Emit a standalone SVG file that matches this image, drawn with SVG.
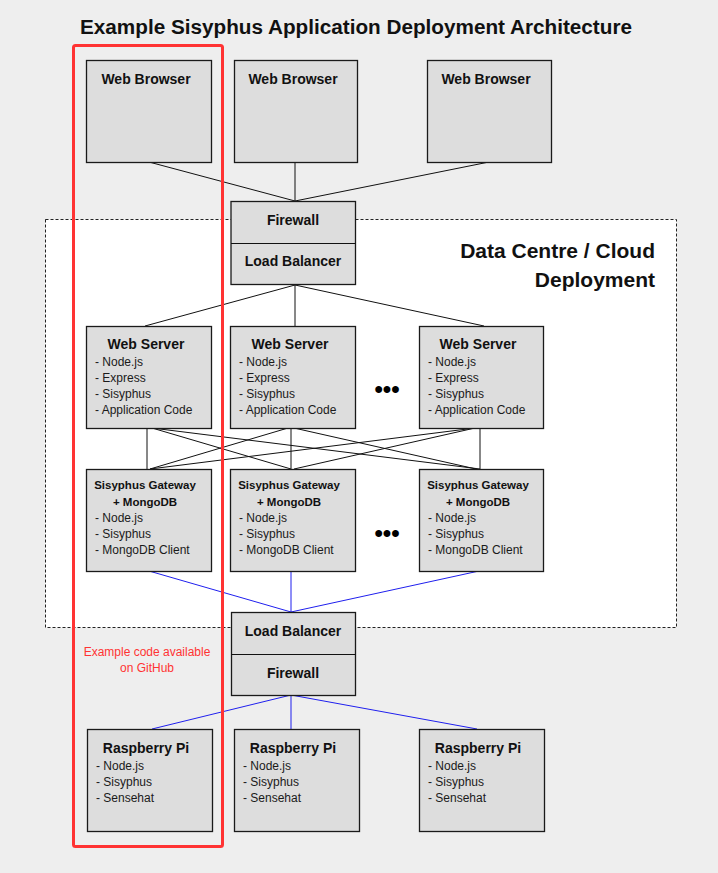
<svg xmlns="http://www.w3.org/2000/svg" width="718" height="873" viewBox="0 0 718 873">
<style>
.box{fill:#dddddd;stroke:#1a1a1a;stroke-width:1.3}
.t{font-family:"Liberation Sans",Arial,sans-serif;font-weight:bold;font-size:14px;fill:#111;text-anchor:middle}
.gt{font-family:"Liberation Sans",Arial,sans-serif;font-weight:bold;font-size:11.5px;fill:#111;text-anchor:middle}
.i{font-family:"Liberation Sans",Arial,sans-serif;font-size:12px;fill:#1a1a1a}
.dots{font-family:"Liberation Sans",Arial,sans-serif;font-weight:bold;font-size:24px;fill:#000;text-anchor:middle}
.k{stroke:#111;stroke-width:1;fill:none}
.b{stroke:#1f1fee;stroke-width:1;fill:none}
.red{font-family:"Liberation Sans",Arial,sans-serif;font-size:12px;fill:#ff3333;text-anchor:middle}
</style>
<rect x="0" y="0" width="718" height="873" fill="#eeeeee"/>
<text x="356" y="34" font-family="'Liberation Sans',Arial,sans-serif" font-weight="bold" font-size="20" fill="#111" text-anchor="middle" textLength="552" lengthAdjust="spacingAndGlyphs">Example Sisyphus Application Deployment Architecture</text>

<g id="datacentre">
<rect x="45.5" y="219.5" width="631" height="408" fill="#ffffff" stroke="#222" stroke-width="1" stroke-dasharray="3,2"/>
<text x="655" y="258" font-family="'Liberation Sans',Arial,sans-serif" font-weight="bold" font-size="21" fill="#111" text-anchor="end">Data Centre / Cloud</text>
<text x="655" y="287" font-family="'Liberation Sans',Arial,sans-serif" font-weight="bold" font-size="21" fill="#111" text-anchor="end">Deployment</text>
</g>

<g id="connectors">
<line class="k" x1="149" y1="162" x2="295" y2="201"/>
<line class="k" x1="295" y1="162" x2="295" y2="201"/>
<line class="k" x1="489" y1="162" x2="295" y2="201"/>
<line class="k" x1="295" y1="285" x2="145" y2="326"/>
<line class="k" x1="295" y1="285" x2="295" y2="326"/>
<line class="k" x1="295" y1="285" x2="484" y2="326"/>
<line class="k" x1="147" y1="428" x2="147" y2="469"/>
<line class="k" x1="152" y1="428" x2="291" y2="469"/>
<line class="k" x1="152" y1="428" x2="480" y2="469"/>
<line class="k" x1="288" y1="428" x2="150" y2="469"/>
<line class="k" x1="291" y1="428" x2="291" y2="469"/>
<line class="k" x1="294" y1="428" x2="476" y2="469"/>
<line class="k" x1="475" y1="428" x2="150" y2="469"/>
<line class="k" x1="475" y1="428" x2="294" y2="469"/>
<line class="k" x1="480" y1="428" x2="480" y2="469"/>
<line class="b" x1="149" y1="571" x2="291" y2="612"/>
<line class="b" x1="291" y1="571" x2="291" y2="612"/>
<line class="b" x1="479" y1="571" x2="291" y2="612"/>
<line class="b" x1="291" y1="695" x2="152" y2="729"/>
<line class="b" x1="291" y1="695" x2="291" y2="729"/>
<line class="b" x1="291" y1="695" x2="477" y2="729"/>
</g>

<g id="browser1"><rect class="box" x="86.5" y="60.5" width="125" height="102"/><text class="t" x="146" y="84">Web Browser</text></g>
<g id="browser2"><rect class="box" x="234.5" y="60.5" width="123" height="102"/><text class="t" x="293" y="84">Web Browser</text></g>
<g id="browser3"><rect class="box" x="427.5" y="60.5" width="124" height="102"/><text class="t" x="486" y="84">Web Browser</text></g>

<g id="firewall-lb-top">
<rect class="box" x="231" y="201.5" width="124.5" height="83"/>
<line class="k" x1="231" y1="243.5" x2="355.5" y2="243.5"/>
<text class="t" x="293" y="225">Firewall</text>
<text class="t" x="293" y="266">Load Balancer</text>
</g>

<g id="webserver1"><rect class="box" x="86.5" y="326.5" width="125" height="102"/>
<text class="t" x="146" y="349">Web Server</text>
<text class="i" x="95" y="366">- Node.js</text><text class="i" x="95" y="382">- Express</text><text class="i" x="95" y="398">- Sisyphus</text><text class="i" x="95" y="414">- Application Code</text></g>
<g id="webserver2"><rect class="box" x="230.5" y="326.5" width="125" height="102"/>
<text class="t" x="290" y="349">Web Server</text>
<text class="i" x="239" y="366">- Node.js</text><text class="i" x="239" y="382">- Express</text><text class="i" x="239" y="398">- Sisyphus</text><text class="i" x="239" y="414">- Application Code</text></g>
<g id="webserver3"><rect class="box" x="419.5" y="326.5" width="124" height="102"/>
<text class="t" x="478" y="349">Web Server</text>
<text class="i" x="428" y="366">- Node.js</text><text class="i" x="428" y="382">- Express</text><text class="i" x="428" y="398">- Sisyphus</text><text class="i" x="428" y="414">- Application Code</text></g>
<text class="dots" x="387" y="397">•••</text>

<g id="gateway1"><rect class="box" x="86.5" y="469.5" width="125" height="102"/>
<text class="gt" x="145" y="489">Sisyphus Gateway</text><text class="gt" x="145" y="506">+ MongoDB</text>
<text class="i" x="95" y="522">- Node.js</text><text class="i" x="95" y="538">- Sisyphus</text><text class="i" x="95" y="554">- MongoDB Client</text></g>
<g id="gateway2"><rect class="box" x="230.5" y="469.5" width="125" height="102"/>
<text class="gt" x="289" y="489">Sisyphus Gateway</text><text class="gt" x="289" y="506">+ MongoDB</text>
<text class="i" x="239" y="522">- Node.js</text><text class="i" x="239" y="538">- Sisyphus</text><text class="i" x="239" y="554">- MongoDB Client</text></g>
<g id="gateway3"><rect class="box" x="419.5" y="469.5" width="124" height="102"/>
<text class="gt" x="478" y="489">Sisyphus Gateway</text><text class="gt" x="478" y="506">+ MongoDB</text>
<text class="i" x="428" y="522">- Node.js</text><text class="i" x="428" y="538">- Sisyphus</text><text class="i" x="428" y="554">- MongoDB Client</text></g>
<text class="dots" x="387" y="541">•••</text>

<g id="lb-firewall-bottom">
<rect class="box" x="231.5" y="612.5" width="124" height="83"/>
<line class="k" x1="231.5" y1="654.5" x2="355.5" y2="654.5"/>
<text class="t" x="293" y="636">Load Balancer</text>
<text class="t" x="293" y="678">Firewall</text>
</g>

<g id="pi1"><rect class="box" x="87.5" y="729.5" width="125" height="102"/>
<text class="t" x="146" y="753">Raspberry Pi</text>
<text class="i" x="96" y="770">- Node.js</text><text class="i" x="96" y="786">- Sisyphus</text><text class="i" x="96" y="802">- Sensehat</text></g>
<g id="pi2"><rect class="box" x="234.5" y="729.5" width="125" height="102"/>
<text class="t" x="293" y="753">Raspberry Pi</text>
<text class="i" x="243" y="770">- Node.js</text><text class="i" x="243" y="786">- Sisyphus</text><text class="i" x="243" y="802">- Sensehat</text></g>
<g id="pi3"><rect class="box" x="419.5" y="729.5" width="125" height="102"/>
<text class="t" x="478" y="753">Raspberry Pi</text>
<text class="i" x="428" y="770">- Node.js</text><text class="i" x="428" y="786">- Sisyphus</text><text class="i" x="428" y="802">- Sensehat</text></g>

<g id="github-highlight">
<rect x="73.5" y="45.5" width="149" height="801" rx="2" fill="none" stroke="#ff3333" stroke-width="3"/>
<text class="red" x="147" y="656">Example code available</text>
<text class="red" x="147" y="672">on GitHub</text>
</g>
</svg>
